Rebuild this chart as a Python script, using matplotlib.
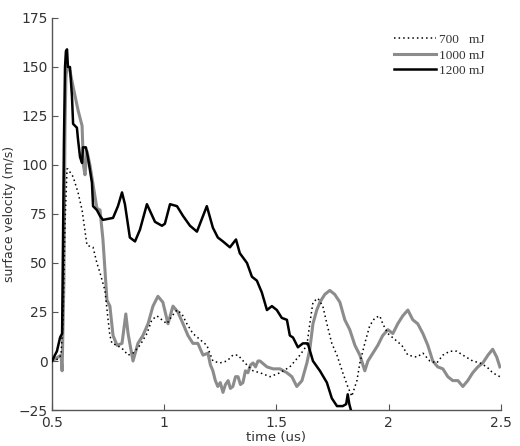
import matplotlib
matplotlib.use("Agg")
import matplotlib.pyplot as plt

# ---- data ----
t_700 = [0.500, 0.527, 0.540, 0.549, 0.558, 0.567, 0.571, 0.594, 0.616, 0.634, 0.656, 0.683, 0.700,
         0.714, 0.736, 0.749, 0.758, 0.767, 0.790, 0.816, 0.839, 0.861, 0.892, 0.923, 0.945,
         0.968, 0.990, 1.012, 1.035, 1.057, 1.079, 1.101, 1.128, 1.159, 1.190, 1.217, 1.248,
         1.280, 1.306, 1.329, 1.360, 1.396, 1.427, 1.472, 1.516, 1.560, 1.605, 1.636, 1.649,
         1.663, 1.685, 1.707, 1.725, 1.747, 1.770, 1.796, 1.818, 1.836, 1.859, 1.872, 1.894,
         1.916, 1.939, 1.961, 1.974, 1.997, 2.028, 2.059, 2.086, 2.126, 2.153, 2.184, 2.215,
         2.242, 2.273, 2.304, 2.331, 2.375, 2.407, 2.438, 2.464, 2.496]
v_700 = [0, 1, 3, 20, 70, 98, 98, 94, 86, 77, 59, 58, 50,
         45, 36, 22, 13, 9, 8, 6, 3, 4, 8, 14, 21,
         23, 21, 19, 23, 26, 24, 19, 14, 11, 8, 0, -1,
         0, 3, 3, -1, -5, -6, -8, -6, -3, 3, 8, 19,
         30, 32, 28, 19, 9, 3, -6, -13, -18, -10, -1, 9,
         18, 22, 23, 19, 14, 11, 8, 3, 2, 4, 0, -1,
         3, 5, 5, 3, 0, -1, -3, -6, -8]

t_1000 = [0.500, 0.527, 0.540, 0.545, 0.553, 0.558, 0.562, 0.567, 0.580, 0.594, 0.616, 0.634,
          0.640, 0.647, 0.656, 0.669, 0.683, 0.700, 0.714, 0.727, 0.745, 0.758, 0.772, 0.790,
          0.812, 0.829, 0.839, 0.861, 0.883, 0.905, 0.928, 0.950, 0.972, 0.994, 1.017, 1.039,
          1.061, 1.084, 1.106, 1.128, 1.150, 1.173, 1.195, 1.206, 1.217, 1.228, 1.239, 1.250,
          1.262, 1.273, 1.285, 1.295, 1.306, 1.318, 1.329, 1.340, 1.351, 1.362, 1.373, 1.385,
          1.396, 1.407, 1.418, 1.427, 1.458, 1.485, 1.516, 1.547, 1.569, 1.591,
          1.614, 1.636, 1.649, 1.663, 1.680, 1.694, 1.716, 1.738, 1.760, 1.783, 1.805, 1.827,
          1.850, 1.872, 1.894, 1.908, 1.930, 1.952, 1.974, 1.997, 2.019, 2.041, 2.063, 2.086,
          2.108, 2.130, 2.153, 2.175, 2.197, 2.219, 2.242, 2.264, 2.286, 2.309, 2.331, 2.353,
          2.375, 2.398, 2.420, 2.443, 2.464, 2.482, 2.496]
v_1000 = [0, 2, 3, -5, 40, 120, 145, 150, 148, 140, 128, 120,
          100, 95, 107, 100, 90, 78, 77, 62, 31, 28, 13, 8,
          9, 24, 14, 0, 9, 13, 19, 28, 33, 30, 19, 28,
          25, 19, 13, 9, 9, 3, 4, -2, -5, -10, -13, -11,
          -16, -12, -10, -14, -13, -8, -8, -12, -11, -5, -6, -2,
          -1, -3, 0, 0, -3, -4, -4, -6, -8, -13,
          -10, -1, 6, 19, 26, 30, 34, 36, 34, 30, 21, 16,
          8, 3, -5, 0, 4, 8, 13, 16, 14, 19, 23, 26,
          21, 19, 14, 8, 0, -3, -4, -8, -10, -10, -13, -10,
          -6, -3, -1, 3, 6, 2, -3]

t_1200 = [0.500, 0.513, 0.522, 0.536, 0.545, 0.549, 0.553, 0.558, 0.562, 0.567, 0.571, 0.580,
          0.589, 0.594, 0.611, 0.616, 0.625, 0.634, 0.638, 0.651, 0.660, 0.678, 0.683, 0.700,
          0.714, 0.727, 0.772, 0.794, 0.812, 0.825, 0.847, 0.870, 0.892, 0.923, 0.959, 0.990,
          1.003, 1.026, 1.057, 1.084, 1.115, 1.146, 1.190, 1.217, 1.239, 1.262, 1.293, 1.320,
          1.337, 1.369, 1.391, 1.413, 1.435, 1.458, 1.480, 1.502, 1.524, 1.547, 1.560, 1.574,
          1.596, 1.618, 1.640, 1.663, 1.694, 1.725, 1.747, 1.770, 1.796, 1.811, 1.818, 1.825,
          1.832]
v_1200 = [0, 3, 5, 12, 14, 60, 110, 150, 158, 159, 150, 150,
          135, 121, 119, 113, 104, 101, 109, 109, 104, 91, 79, 77,
          74, 72, 73, 79, 86, 80, 63, 61, 67, 80, 71, 69,
          70, 80, 79, 74, 69, 66, 79, 68, 63, 61, 58, 62,
          55, 50, 43, 41, 35, 26, 28, 26, 22, 21, 13, 12,
          7, 9, 9, 0, -5, -11, -19, -23, -23, -22, -17, -22,
          -25]

labels = ["700   mJ", "1000 mJ", "1200 mJ"]
xticks = [0.5, 1, 1.5, 2, 2.5]
xtick_labels = ["0.5", "1", "1.5", "2", "2.5"]
yticks = [-25, 0, 25, 50, 75, 100, 125, 150, 175]

# ---- plot ----
fig = plt.figure(figsize=(5.2, 4.46), dpi=100)
ax = fig.add_axes([0.1, 0.0807, 0.863, 0.879])

ax.plot(t_1000, v_1000, color="#8c8c8c", lw=2.2, zorder=2, label=labels[1])
ax.plot(t_700, v_700, color="black", lw=1.1, ls=(0, (1, 2)), zorder=3, label=labels[0])
ax.plot(t_1200, v_1200, color="black", lw=1.8, zorder=4, label=labels[2])

ax.set_xlim(0.5, 2.5)
ax.set_ylim(-25, 175)
ax.set_xticks(xticks)
ax.set_xticklabels(xtick_labels)
ax.set_yticks(yticks)

for s in ["top", "right"]:
    ax.spines[s].set_visible(False)
for s in ["left", "bottom"]:
    ax.spines[s].set_color("#555555")
    ax.spines[s].set_linewidth(1.0)

ax.tick_params(direction="in", length=4, width=0.8, color="#555555",
               labelsize=10, labelcolor="#333333", pad=2)
ax.tick_params(axis="x", pad=4)
ax.tick_params(axis="y", pad=3)

ax.set_xlabel("time (us)", fontsize=9.5, color="#333333", labelpad=1)
ax.set_ylabel("surface velocity (m/s)", fontsize=9, color="#333333", labelpad=2)

h, l = ax.get_legend_handles_labels()
order = [1, 0, 2]
leg = ax.legend([h[i] for i in order], [l[i] for i in order], loc="upper right",
                bbox_to_anchor=(0.99, 0.99), frameon=False,
                prop={"family": "Liberation Serif", "size": 9.5},
                handlelength=3.2, handletextpad=0.2, labelspacing=0.25)
for txt in leg.get_texts():
    txt.set_color("#333333")

fig.savefig("out.png", dpi=100)
